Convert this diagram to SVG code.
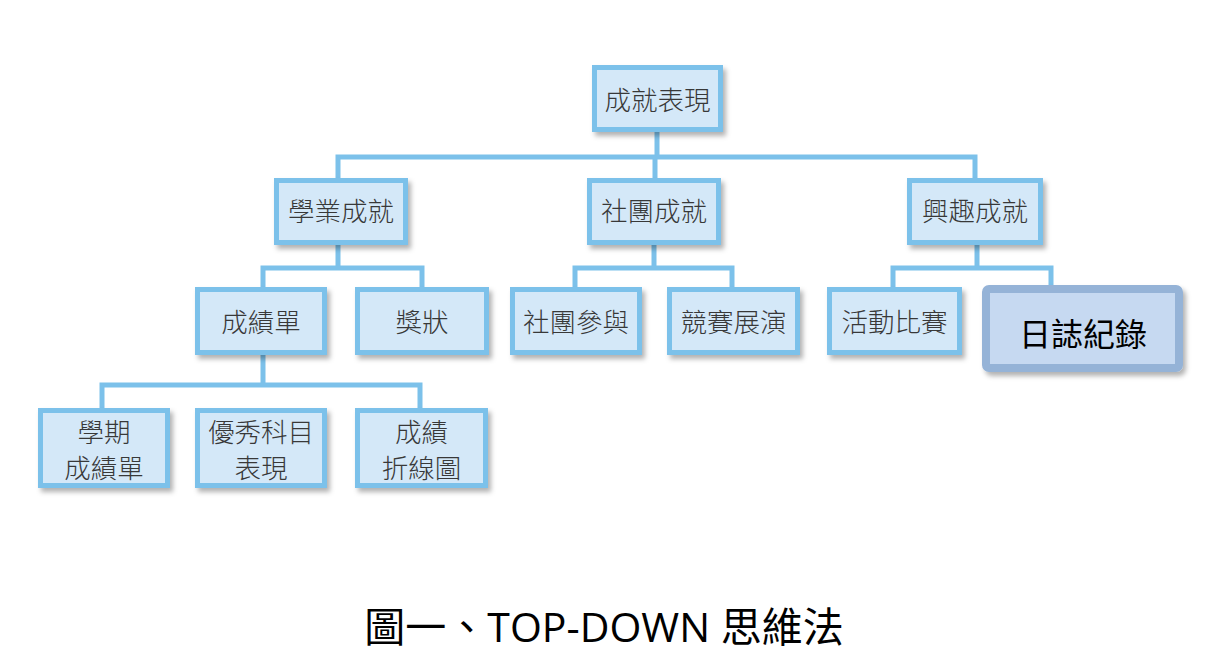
<svg xmlns="http://www.w3.org/2000/svg" width="1205" height="659" viewBox="0 0 1205 659">
<style>
.box{fill:#d4e8f8;stroke:#7cc1ea;stroke-width:5;filter:url(#sh)}
.hl{fill:#c6d9f1;stroke:#95b3d7;stroke-width:8;filter:url(#sh)}
.lbl{font-family:"Noto Sans CJK TC","Noto Sans CJK SC",sans-serif;font-size:26.5px;font-weight:300;fill:#383838;text-anchor:middle}
.big{font-family:"Noto Sans CJK TC","Noto Sans CJK SC",sans-serif;font-size:32px;fill:#000;text-anchor:middle}
.cap{font-family:"Open Sans","Noto Sans CJK TC",sans-serif;font-size:41px;fill:#000;text-anchor:middle}
#connectors path{fill:none;stroke:#7cc1ea;stroke-width:5}
</style>
<defs>
<filter id="sh" x="-10%" y="-10%" width="130%" height="140%">
<feDropShadow dx="3" dy="4" stdDeviation="2.5" flood-color="#000" flood-opacity="0.3"/>
</filter>
</defs>
<rect width="1205" height="659" fill="#fff"/>
<g id="connectors">
<path d="M657,131 V157 M338,178 V157 H975 V178 M655,157 V178"/>
<path d="M338,245 V268 M263,287 V268 H422 V287"/>
<path d="M654,245 V268 M575,287 V268 H732 V287"/>
<path d="M977,245 V268 M893,287 V268 H1051 V287"/>
<path d="M263,355 V385 M102,408 V385 H420 V408"/>
</g>
<g id="n_root"><rect class="box" x="594.5" y="67.5" width="126" height="62"/><text class="lbl" x="657.5" y="110">成就表現</text></g>
<g id="n_academic"><rect class="box" x="276.5" y="180.5" width="129" height="62"/><text class="lbl" x="341" y="221">學業成就</text></g>
<g id="n_club"><rect class="box" x="589.5" y="180.5" width="129" height="62"/><text class="lbl" x="654" y="221">社團成就</text></g>
<g id="n_interest"><rect class="box" x="909.5" y="180.5" width="131" height="62"/><text class="lbl" x="975" y="221">興趣成就</text></g>
<g id="n_report"><rect class="box" x="197.5" y="289.5" width="127" height="63"/><text class="lbl" x="261" y="332">成績單</text></g>
<g id="n_award"><rect class="box" x="357.5" y="289.5" width="129" height="63"/><text class="lbl" x="422" y="332">獎狀</text></g>
<g id="n_clubjoin"><rect class="box" x="512.5" y="289.5" width="127" height="63"/><text class="lbl" x="576" y="332">社團參與</text></g>
<g id="n_compete"><rect class="box" x="669.5" y="289.5" width="128" height="63"/><text class="lbl" x="733.5" y="332">競賽展演</text></g>
<g id="n_activity"><rect class="box" x="829.5" y="289.5" width="130" height="63"/><text class="lbl" x="894.5" y="332">活動比賽</text></g>
<g id="n_diary"><rect class="hl" x="986" y="289" width="193" height="79" rx="3"/><text class="big" x="1083" y="346">日誌紀錄</text></g>
<g id="n_term"><rect class="box" x="40.5" y="410.5" width="127" height="75"/><text class="lbl" x="104" y="442">學期</text><text class="lbl" x="104" y="478">成績單</text></g>
<g id="n_excellent"><rect class="box" x="197.5" y="410.5" width="127" height="75"/><text class="lbl" x="261" y="442">優秀科目</text><text class="lbl" x="261" y="478">表現</text></g>
<g id="n_chart"><rect class="box" x="357.5" y="410.5" width="128" height="75"/><text class="lbl" x="421.5" y="442">成績</text><text class="lbl" x="421.5" y="478">折線圖</text></g>
<text class="cap" x="604" y="642">圖一、TOP-DOWN 思維法</text>
</svg>
